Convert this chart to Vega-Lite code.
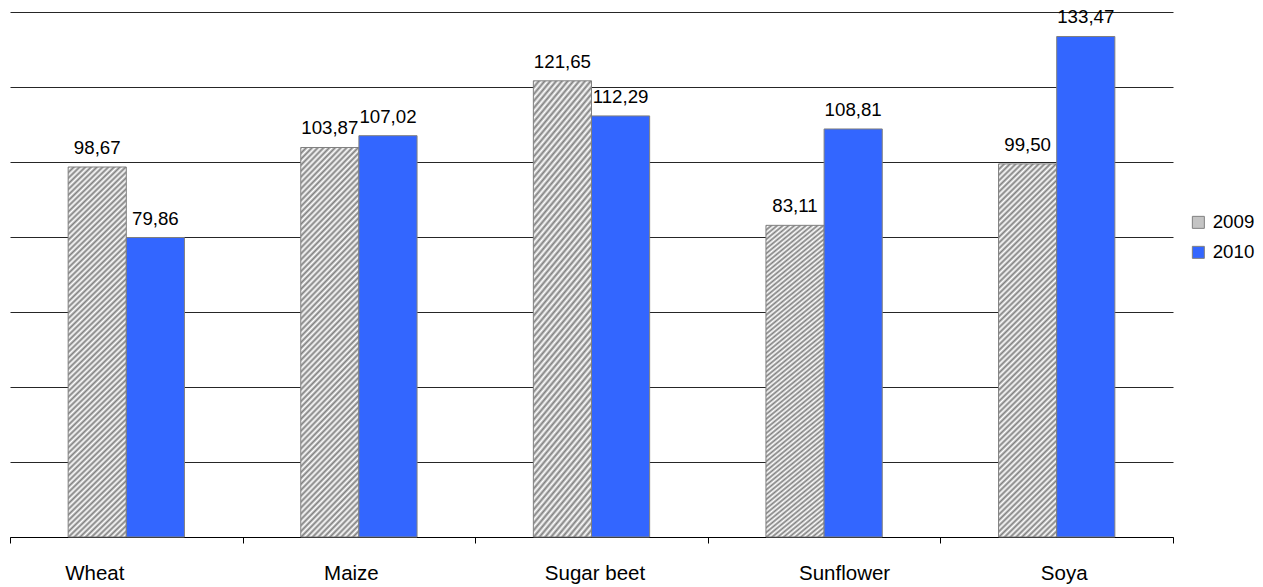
{
  "$schema": "https://vega.github.io/schema/vega-lite/v6.json",
  "width": 1163,
  "height": 525,
  "autosize": "none",
  "padding": {"left": 10, "top": 12, "right": 90, "bottom": 50},
  "background": "white",
  "config": {
    "view": {"stroke": null},
    "font": "Liberation Sans",
    "locale": {"number": {"decimal": ",", "thousands": ".", "grouping": [3], "currency": ["", " €"]}}
  },
  "data": {
    "values": [
      {"crop": "Wheat", "year": "2009", "value": 98.67},
      {"crop": "Wheat", "year": "2010", "value": 79.86},
      {"crop": "Maize", "year": "2009", "value": 103.87},
      {"crop": "Maize", "year": "2010", "value": 107.02},
      {"crop": "Sugar beet", "year": "2009", "value": 121.65},
      {"crop": "Sugar beet", "year": "2010", "value": 112.29},
      {"crop": "Sunflower", "year": "2009", "value": 83.11},
      {"crop": "Sunflower", "year": "2010", "value": 108.81},
      {"crop": "Soya", "year": "2009", "value": 99.50},
      {"crop": "Soya", "year": "2010", "value": 133.47}
    ]
  },
  "encoding": {
    "x": {
      "field": "crop",
      "type": "nominal",
      "sort": ["Wheat", "Maize", "Sugar beet", "Sunflower", "Soya"],
      "scale": {"paddingInner": 0, "paddingOuter": 0},
      "axis": {
        "title": null,
        "labelAngle": 0,
        "tickBand": "extent",
        "domainColor": "#000000",
        "tickColor": "#000000",
        "tickSize": 6,
        "labelPadding": 20,
        "labelFontSize": 20.5,
        "labelColor": "#000000",
        "grid": false,
        "labelOffset": {"expr": "datum.value === 'Wheat' ? -32 : datum.value === 'Maize' ? -8 : datum.value === 'Sugar beet' ? 3 : datum.value === 'Sunflower' ? 20 : 7"}
      }
    },
    "xOffset": {
      "field": "year",
      "type": "nominal",
      "scale": {"paddingInner": 0, "paddingOuter": 1}
    },
    "y": {
      "field": "value",
      "type": "quantitative",
      "scale": {"domain": [0, 140], "nice": false},
      "axis": {
        "title": null,
        "labels": false,
        "ticks": false,
        "domain": false,
        "grid": true,
        "gridColor": "#000000",
        "gridOpacity": 0.85,
        "values": [0, 20, 40, 60, 80, 100, 120, 140]
      }
    }
  },
  "layer": [
    {
      "mark": {"type": "bar", "stroke": "#808080", "strokeWidth": 1},
      "encoding": {
        "fill": {
          "condition": {
            "test": "datum.year === '2009'",
            "value": {
              "gradient": "linear",
              "x1": 0, "y1": 0, "x2": 0.1724, "y2": 1.1263,
              "stops": [
                {"offset": 0, "color": "#808080"}, {"offset": 0.0066, "color": "#ffffff"},
                {"offset": 0.0132, "color": "#808080"}, {"offset": 0.0197, "color": "#ffffff"},
                {"offset": 0.0263, "color": "#808080"}, {"offset": 0.0329, "color": "#ffffff"},
                {"offset": 0.0395, "color": "#808080"}, {"offset": 0.0461, "color": "#ffffff"},
                {"offset": 0.0526, "color": "#808080"}, {"offset": 0.0592, "color": "#ffffff"},
                {"offset": 0.0658, "color": "#808080"}, {"offset": 0.0724, "color": "#ffffff"},
                {"offset": 0.0789, "color": "#808080"}, {"offset": 0.0855, "color": "#ffffff"},
                {"offset": 0.0921, "color": "#808080"}, {"offset": 0.0987, "color": "#ffffff"},
                {"offset": 0.1053, "color": "#808080"}, {"offset": 0.1118, "color": "#ffffff"},
                {"offset": 0.1184, "color": "#808080"}, {"offset": 0.125, "color": "#ffffff"},
                {"offset": 0.1316, "color": "#808080"}, {"offset": 0.1382, "color": "#ffffff"},
                {"offset": 0.1447, "color": "#808080"}, {"offset": 0.1513, "color": "#ffffff"},
                {"offset": 0.1579, "color": "#808080"}, {"offset": 0.1645, "color": "#ffffff"},
                {"offset": 0.1711, "color": "#808080"}, {"offset": 0.1776, "color": "#ffffff"},
                {"offset": 0.1842, "color": "#808080"}, {"offset": 0.1908, "color": "#ffffff"},
                {"offset": 0.1974, "color": "#808080"}, {"offset": 0.2039, "color": "#ffffff"},
                {"offset": 0.2105, "color": "#808080"}, {"offset": 0.2171, "color": "#ffffff"},
                {"offset": 0.2237, "color": "#808080"}, {"offset": 0.2303, "color": "#ffffff"},
                {"offset": 0.2368, "color": "#808080"}, {"offset": 0.2434, "color": "#ffffff"},
                {"offset": 0.25, "color": "#808080"}, {"offset": 0.2566, "color": "#ffffff"},
                {"offset": 0.2632, "color": "#808080"}, {"offset": 0.2697, "color": "#ffffff"},
                {"offset": 0.2763, "color": "#808080"}, {"offset": 0.2829, "color": "#ffffff"},
                {"offset": 0.2895, "color": "#808080"}, {"offset": 0.2961, "color": "#ffffff"},
                {"offset": 0.3026, "color": "#808080"}, {"offset": 0.3092, "color": "#ffffff"},
                {"offset": 0.3158, "color": "#808080"}, {"offset": 0.3224, "color": "#ffffff"},
                {"offset": 0.3289, "color": "#808080"}, {"offset": 0.3355, "color": "#ffffff"},
                {"offset": 0.3421, "color": "#808080"}, {"offset": 0.3487, "color": "#ffffff"},
                {"offset": 0.3553, "color": "#808080"}, {"offset": 0.3618, "color": "#ffffff"},
                {"offset": 0.3684, "color": "#808080"}, {"offset": 0.375, "color": "#ffffff"},
                {"offset": 0.3816, "color": "#808080"}, {"offset": 0.3882, "color": "#ffffff"},
                {"offset": 0.3947, "color": "#808080"}, {"offset": 0.4013, "color": "#ffffff"},
                {"offset": 0.4079, "color": "#808080"}, {"offset": 0.4145, "color": "#ffffff"},
                {"offset": 0.4211, "color": "#808080"}, {"offset": 0.4276, "color": "#ffffff"},
                {"offset": 0.4342, "color": "#808080"}, {"offset": 0.4408, "color": "#ffffff"},
                {"offset": 0.4474, "color": "#808080"}, {"offset": 0.4539, "color": "#ffffff"},
                {"offset": 0.4605, "color": "#808080"}, {"offset": 0.4671, "color": "#ffffff"},
                {"offset": 0.4737, "color": "#808080"}, {"offset": 0.4803, "color": "#ffffff"},
                {"offset": 0.4868, "color": "#808080"}, {"offset": 0.4934, "color": "#ffffff"},
                {"offset": 0.5, "color": "#808080"}, {"offset": 0.5066, "color": "#ffffff"},
                {"offset": 0.5132, "color": "#808080"}, {"offset": 0.5197, "color": "#ffffff"},
                {"offset": 0.5263, "color": "#808080"}, {"offset": 0.5329, "color": "#ffffff"},
                {"offset": 0.5395, "color": "#808080"}, {"offset": 0.5461, "color": "#ffffff"},
                {"offset": 0.5526, "color": "#808080"}, {"offset": 0.5592, "color": "#ffffff"},
                {"offset": 0.5658, "color": "#808080"}, {"offset": 0.5724, "color": "#ffffff"},
                {"offset": 0.5789, "color": "#808080"}, {"offset": 0.5855, "color": "#ffffff"},
                {"offset": 0.5921, "color": "#808080"}, {"offset": 0.5987, "color": "#ffffff"},
                {"offset": 0.6053, "color": "#808080"}, {"offset": 0.6118, "color": "#ffffff"},
                {"offset": 0.6184, "color": "#808080"}, {"offset": 0.625, "color": "#ffffff"},
                {"offset": 0.6316, "color": "#808080"}, {"offset": 0.6382, "color": "#ffffff"},
                {"offset": 0.6447, "color": "#808080"}, {"offset": 0.6513, "color": "#ffffff"},
                {"offset": 0.6579, "color": "#808080"}, {"offset": 0.6645, "color": "#ffffff"},
                {"offset": 0.6711, "color": "#808080"}, {"offset": 0.6776, "color": "#ffffff"},
                {"offset": 0.6842, "color": "#808080"}, {"offset": 0.6908, "color": "#ffffff"},
                {"offset": 0.6974, "color": "#808080"}, {"offset": 0.7039, "color": "#ffffff"},
                {"offset": 0.7105, "color": "#808080"}, {"offset": 0.7171, "color": "#ffffff"},
                {"offset": 0.7237, "color": "#808080"}, {"offset": 0.7303, "color": "#ffffff"},
                {"offset": 0.7368, "color": "#808080"}, {"offset": 0.7434, "color": "#ffffff"},
                {"offset": 0.75, "color": "#808080"}, {"offset": 0.7566, "color": "#ffffff"},
                {"offset": 0.7632, "color": "#808080"}, {"offset": 0.7697, "color": "#ffffff"},
                {"offset": 0.7763, "color": "#808080"}, {"offset": 0.7829, "color": "#ffffff"},
                {"offset": 0.7895, "color": "#808080"}, {"offset": 0.7961, "color": "#ffffff"},
                {"offset": 0.8026, "color": "#808080"}, {"offset": 0.8092, "color": "#ffffff"},
                {"offset": 0.8158, "color": "#808080"}, {"offset": 0.8224, "color": "#ffffff"},
                {"offset": 0.8289, "color": "#808080"}, {"offset": 0.8355, "color": "#ffffff"},
                {"offset": 0.8421, "color": "#808080"}, {"offset": 0.8487, "color": "#ffffff"},
                {"offset": 0.8553, "color": "#808080"}, {"offset": 0.8618, "color": "#ffffff"},
                {"offset": 0.8684, "color": "#808080"}, {"offset": 0.875, "color": "#ffffff"},
                {"offset": 0.8816, "color": "#808080"}, {"offset": 0.8882, "color": "#ffffff"},
                {"offset": 0.8947, "color": "#808080"}, {"offset": 0.9013, "color": "#ffffff"},
                {"offset": 0.9079, "color": "#808080"}, {"offset": 0.9145, "color": "#ffffff"},
                {"offset": 0.9211, "color": "#808080"}, {"offset": 0.9276, "color": "#ffffff"},
                {"offset": 0.9342, "color": "#808080"}, {"offset": 0.9408, "color": "#ffffff"},
                {"offset": 0.9474, "color": "#808080"}, {"offset": 0.9539, "color": "#ffffff"},
                {"offset": 0.9605, "color": "#808080"}, {"offset": 0.9671, "color": "#ffffff"},
                {"offset": 0.9737, "color": "#808080"}, {"offset": 0.9803, "color": "#ffffff"},
                {"offset": 0.9868, "color": "#808080"}, {"offset": 0.9934, "color": "#ffffff"},
                {"offset": 1, "color": "#808080"}
              ]
            }
          },
          "field": "year",
          "type": "nominal",
          "scale": {"domain": ["2009", "2010"], "range": ["#c4c4c4", "#3366ff"]},
          "legend": {
            "title": null,
            "orient": "none",
            "legendX": 1179,
            "legendY": 201,
            "padding": 0,
            "symbolType": "square",
            "symbolSize": 144,
            "symbolStrokeColor": "#808080",
            "symbolStrokeWidth": 1,
            "labelFontSize": 18.7,
            "labelColor": "#000000",
            "labelOffset": 5,
            "rowPadding": 10
          }
        }
      }
    },
    {
      "mark": {"type": "text", "dy": -13, "baseline": "alphabetic", "fontSize": 18.7, "color": "#000000"},
      "encoding": {
        "text": {"field": "value", "type": "quantitative", "format": ".2f"}
      }
    }
  ]
}
